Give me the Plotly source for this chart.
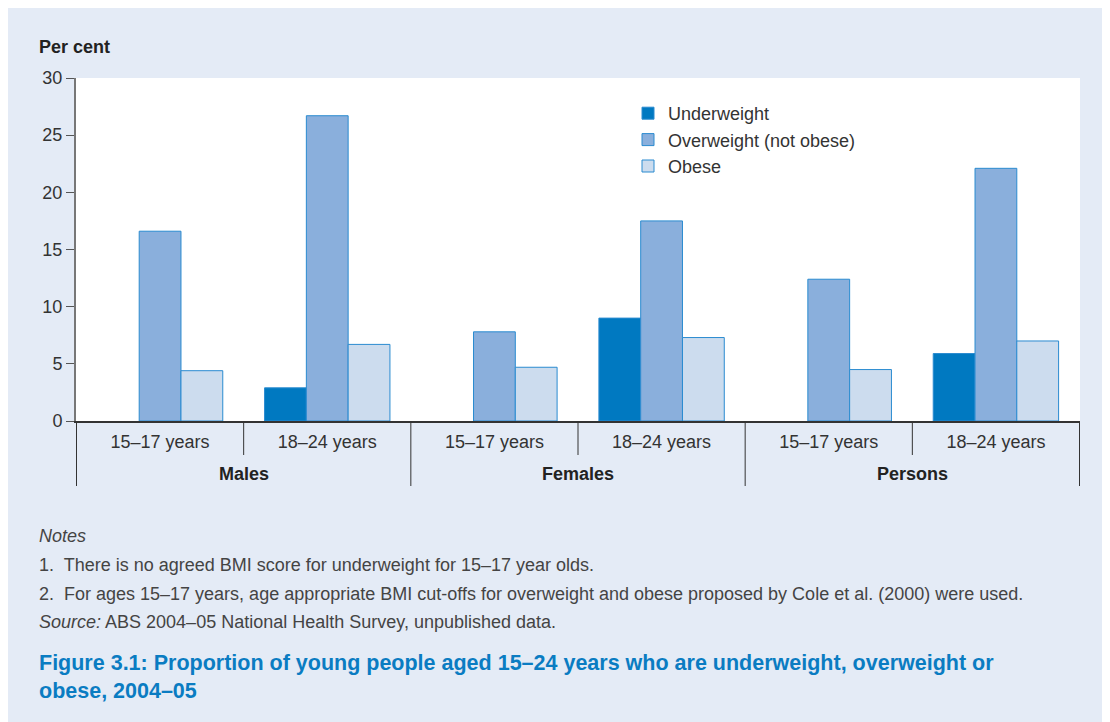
import plotly.graph_objects as go

groups = ["Males", "Males", "Females", "Females", "Persons", "Persons"]
ages = ["15–17 years", "18–24 years"] * 3
group_names = ["Males", "Females", "Persons"]
underweight = [None, 2.9, None, 9.0, None, 5.9]
overweight = [16.6, 26.7, 7.8, 17.5, 12.4, 22.1]
obese = [4.4, 6.7, 4.7, 7.3, 4.5, 7.0]
series_names = ["Underweight", "Overweight (not obese)", "Obese"]
colors = ["#0079c1", "#8aafdc", "#ccdcee"]

W, H = 1110, 722
OFF = 8  # page body margin
# plot area in page pixels: x 76..1080, y 78..421
PL, PR, PT, PB = 76, 1080, 78, 421
L = PL - OFF
T = PT - OFF
R = W - (PR - OFF)
B = H - (PB - OFF)
FONT = "Liberation Sans, Arial, sans-serif"
TXT = "#333333"
NOTE = "#444444"

cats = [g + " | " + a for g, a in zip(groups, ages)]

fig = go.Figure()
for name, vals, col in zip(series_names, [underweight, overweight, obese], colors):
    fig.add_trace(go.Bar(
        x=cats, y=vals, name=name,
        marker=dict(color=col, line=dict(color="#2a8bd0", width=1)),
    ))

PH = PB - PT
PW = PR - PL

def px_x(p):
    return (p - PL) / PW

def px_y(p):
    return (PB - p) / PH

shapes = []
for i in range(len(cats) + 1):
    is_group = (i % 2 == 0)
    shapes.append(dict(type="line", xref="x", yref="paper",
                       x0=i - 0.5, x1=i - 0.5, y0=0,
                       y1=px_y(486) if is_group else px_y(455),
                       line=dict(color="#333", width=1)))

annotations = []
for k, g in enumerate(group_names):
    annotations.append(dict(text="<b>%s</b>" % g, x=2 * k + 0.5, xref="x",
                            y=px_y(474), yref="paper", xanchor="center", yanchor="middle",
                            showarrow=False, font=dict(size=18, color="#222")))

annotations += [
    dict(text="<b>Per cent</b>", x=px_x(37), y=px_y(47), xref="paper", yref="paper",
         xanchor="left", yanchor="middle", showarrow=False, font=dict(size=18, color="#222")),
    dict(text="<i>Notes</i>", x=px_x(37), y=px_y(536), xref="paper", yref="paper",
         xanchor="left", yanchor="middle", showarrow=False, font=dict(size=18, color=NOTE)),
    dict(text="1.  There is no agreed BMI score for underweight for 15–17 year olds.",
         x=px_x(37), y=px_y(565), xref="paper", yref="paper",
         xanchor="left", yanchor="middle", showarrow=False, font=dict(size=18, color=NOTE)),
    dict(text="2.  For ages 15–17 years, age appropriate BMI cut-offs for overweight and obese proposed by Cole et al. (2000) were used.",
         x=px_x(37), y=px_y(594), xref="paper", yref="paper",
         xanchor="left", yanchor="middle", showarrow=False, font=dict(size=18, color=NOTE)),
    dict(text="<i>Source:</i> ABS 2004–05 National Health Survey, unpublished data.",
         x=px_x(37), y=px_y(622), xref="paper", yref="paper",
         xanchor="left", yanchor="middle", showarrow=False, font=dict(size=18, color=NOTE)),
    dict(text="<b>Figure 3.1: Proportion of young people aged 15–24 years who are underweight, overweight or<br>obese, 2004–05</b>",
         x=px_x(37), y=px_y(677), xref="paper", yref="paper", align="left",
         xanchor="left", yanchor="middle", showarrow=False, font=dict(size=21.5, color="#0a7cc2")),
]

fig.update_layout(
    width=W, height=H,
    margin=dict(l=L, r=R, t=T, b=B, autoexpand=False),
    paper_bgcolor="#e4ebf6",
    plot_bgcolor="white",
    font=dict(family=FONT, size=18, color=TXT),
    barmode="group",
    bargap=0.25,
    bargroupgap=0,
    showlegend=True,
    legend=dict(x=px_x(628), y=px_y(95), xanchor="left", yanchor="top",
                bgcolor="rgba(0,0,0,0)", font=dict(size=18, color=TXT),
                tracegroupgap=0, itemwidth=30),
    shapes=shapes,
    annotations=annotations,
    yaxis=dict(range=[0, 30], tickvals=[0, 5, 10, 15, 20, 25, 30], showgrid=False,
               zeroline=False, showline=True, linecolor="#777", linewidth=2,
               ticks="outside", ticklen=8, tickcolor="#555", tickwidth=1,
               tickfont=dict(size=18, color=TXT)),
    xaxis=dict(type="category", categoryorder="array", categoryarray=cats,
               tickmode="array", tickvals=cats, ticktext=ages,
               showline=True, linecolor="#333", linewidth=2,
               ticks="", showgrid=False, ticklabelstandoff=3,
               tickfont=dict(size=18, color=TXT)),
)

fig.write_html("out.html", config={"displayModeBar": False})
